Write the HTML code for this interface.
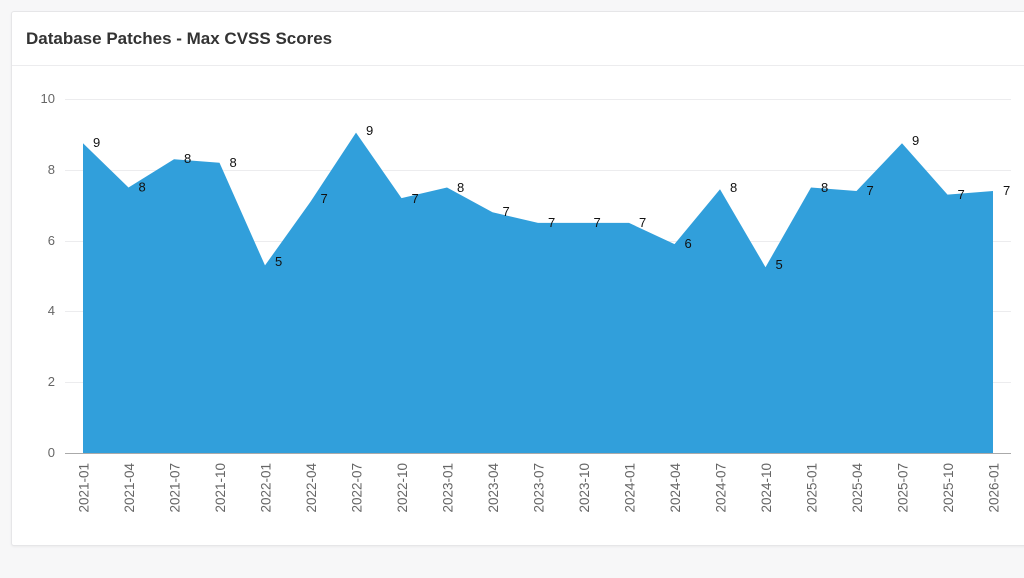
<!DOCTYPE html>
<html><head><meta charset="utf-8"><style>
html,body{margin:0;padding:0;width:1024px;height:578px;background:#f7f7f8;overflow:hidden;font-family:"Liberation Sans",sans-serif}
.card{position:absolute;left:11px;top:11px;width:1030px;height:533px;background:#fff;border:1px solid #e6e6e8;border-radius:3px;box-shadow:0 1px 2px rgba(0,0,0,.05)}
.title{position:absolute;left:14px;top:17px;font-size:17px;font-weight:bold;color:#333}
.hr{position:absolute;left:0;right:0;top:53px;border-top:1px solid #ececee}
svg{position:absolute;left:0;top:0}
</style></head><body>
<div class="card"><div class="title">Database Patches - Max CVSS Scores</div><div class="hr"></div></div>
<svg width="1024" height="578" xmlns="http://www.w3.org/2000/svg" font-family="Liberation Sans, sans-serif">
<g stroke="#ececee" stroke-width="1">
<line x1="65" x2="1011" y1="99.5" y2="99.5"/><line x1="65" x2="1011" y1="170.5" y2="170.5"/><line x1="65" x2="1011" y1="241.5" y2="241.5"/><line x1="65" x2="1011" y1="311.5" y2="311.5"/><line x1="65" x2="1011" y1="382.5" y2="382.5"/>
</g>
<g font-size="13" fill="#666" text-anchor="end">
<text x="55" y="103">10</text><text x="55" y="174">8</text><text x="55" y="245">6</text><text x="55" y="315">4</text><text x="55" y="386">2</text><text x="55" y="457">0</text>
</g>
<polygon fill="#319fdb" points="83,143.3 128.5,187.5 174,159.2 219.5,162.7 265,265.4 310.5,201.7 356,132.6 401.5,198.1 447,187.5 492.5,212.3 538,222.9 583.5,222.9 629,222.9 674.5,244.1 720,189.3 765.5,267.2 811,187.5 856.5,191 902,143.3 947.5,194.6 993,191 993,453 83,453"/>
<line x1="65" x2="1011" y1="453.5" y2="453.5" stroke="#aaa"/>
<g font-size="13" fill="#111">
<text x="93" y="147">9</text><text x="138.5" y="191.5">8</text><text x="184" y="163">8</text><text x="229.5" y="167">8</text><text x="275" y="266">5</text><text x="320.5" y="203">7</text><text x="366" y="135">9</text><text x="411.5" y="203">7</text><text x="457" y="192">8</text><text x="502.5" y="216">7</text><text x="548" y="227">7</text><text x="593.5" y="227">7</text><text x="639" y="227">7</text><text x="684.5" y="248">6</text><text x="730" y="192">8</text><text x="775.5" y="269">5</text><text x="821" y="192">8</text><text x="866.5" y="195">7</text><text x="912" y="145">9</text><text x="957.5" y="199">7</text><text x="1003" y="195">7</text>
</g>
<g font-size="13.5" fill="#666" text-anchor="end">
<text transform="translate(88.5,463) rotate(-90)">2021-01</text>
<text transform="translate(134,463) rotate(-90)">2021-04</text>
<text transform="translate(179.5,463) rotate(-90)">2021-07</text>
<text transform="translate(225,463) rotate(-90)">2021-10</text>
<text transform="translate(270.5,463) rotate(-90)">2022-01</text>
<text transform="translate(316,463) rotate(-90)">2022-04</text>
<text transform="translate(361.5,463) rotate(-90)">2022-07</text>
<text transform="translate(407,463) rotate(-90)">2022-10</text>
<text transform="translate(452.5,463) rotate(-90)">2023-01</text>
<text transform="translate(498,463) rotate(-90)">2023-04</text>
<text transform="translate(543.5,463) rotate(-90)">2023-07</text>
<text transform="translate(589,463) rotate(-90)">2023-10</text>
<text transform="translate(634.5,463) rotate(-90)">2024-01</text>
<text transform="translate(680,463) rotate(-90)">2024-04</text>
<text transform="translate(725.5,463) rotate(-90)">2024-07</text>
<text transform="translate(771,463) rotate(-90)">2024-10</text>
<text transform="translate(816.5,463) rotate(-90)">2025-01</text>
<text transform="translate(862,463) rotate(-90)">2025-04</text>
<text transform="translate(907.5,463) rotate(-90)">2025-07</text>
<text transform="translate(953,463) rotate(-90)">2025-10</text>
<text transform="translate(998.5,463) rotate(-90)">2026-01</text>
</g>
</svg>
</body></html>
